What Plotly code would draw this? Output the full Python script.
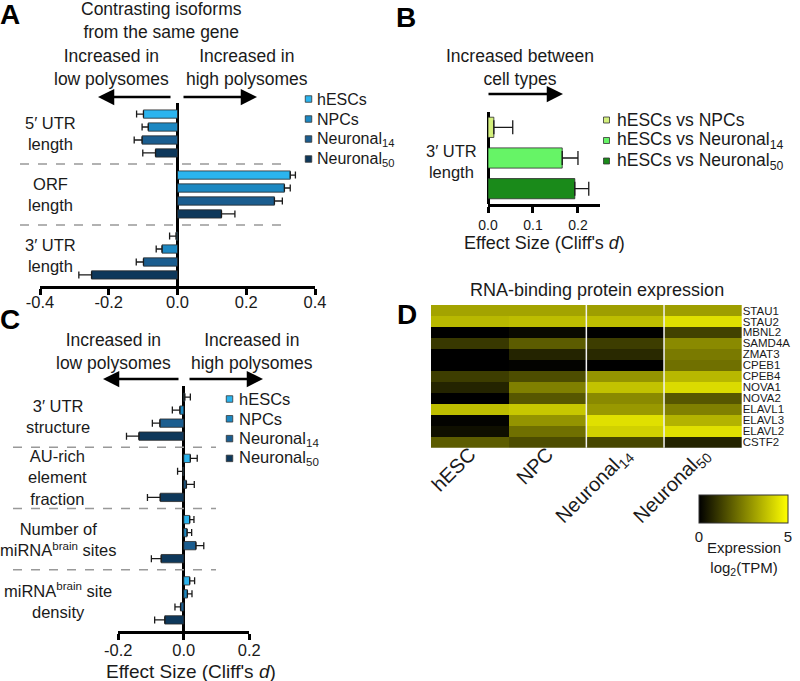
import plotly.graph_objects as go

W, H = 800, 681
def px(x): return x / W
def py(y): return 1 - y / H

FONT = "Liberation Sans, Arial, Helvetica, sans-serif"
TXT = "#1a1a1a"

# ---------------- data ----------------
series_names = ["hESCs", "NPCs", "Neuronal<sub>14</sub>", "Neuronal<sub>50</sub>"]
series_colors = ["#2BB4EE", "#1C88C2", "#1B5D8F", "#0E385B"]

# Panel A: contrasting isoforms from the same gene
a_groups = ["5′ UTR<br>length", "ORF<br>length", "3′ UTR<br>length"]
a_hesc = [-0.099, 0.328, -0.004]
a_npc = [-0.085, 0.311, -0.045]
a_n14 = [-0.103, 0.282, -0.099]
a_n50 = [-0.064, 0.128, -0.250]
a_hesc_err = [0.020, 0.015, 0.019]
a_npc_err = [0.018, 0.017, 0.017]
a_n14_err = [0.023, 0.023, 0.021]
a_n50_err = [0.037, 0.039, 0.037]
a_ticks = [-0.4, -0.2, 0.0, 0.2, 0.4]
a_ticktext = ["-0.4", "-0.2", "0.0", "0.2", "0.4"]

# Panel B: increased between cell types
b_names = ["hESCs vs NPCs", "hESCs vs Neuronal<sub>14</sub>", "hESCs vs Neuronal<sub>50</sub>"]
b_values = [0.013, 0.165, 0.193]
b_err = [0.042, 0.035, 0.031]
b_colors = ["#D4F07C", "#66F466", "#1A8A1A"]
b_ticks = [0.0, 0.1, 0.2]
b_ticktext = ["0.0", "0.1", "0.2"]

# Panel C
c_groups = ["3′ UTR<br>structure", "AU-rich<br>element<br>fraction",
            "Number of<br>miRNA<sup>brain</sup> sites", "miRNA<sup>brain</sup> site<br>density"]
c_hesc = [0.003, 0.020, 0.018, 0.018]
c_npc = [-0.012, -0.003, 0.010, 0.011]
c_n14 = [-0.073, 0.008, 0.037, -0.010]
c_n50 = [-0.137, -0.072, -0.069, -0.058]
c_hesc_err = [0.017, 0.021, 0.013, 0.015]
c_npc_err = [0.023, 0.016, 0.014, 0.014]
c_n14_err = [0.023, 0.024, 0.024, 0.017]
c_n50_err = [0.038, 0.039, 0.030, 0.031]
c_ticks = [-0.2, 0.0, 0.2]
c_ticktext = ["-0.2", "0.0", "0.2"]

# Panel D: RNA-binding protein expression, log2(TPM)
d_cols = ["hESC", "NPC", "Neuronal<sub>14</sub>", "Neuronal<sub>50</sub>"]
d_rows = ["STAU1", "STAU2", "MBNL2", "SAMD4A", "ZMAT3", "CPEB1", "CPEB4",
          "NOVA1", "NOVA2", "ELAVL1", "ELAVL3", "ELAVL2", "CSTF2"]
d_values = [
    [3.2, 3.2, 3.1, 3.1],
    [3.6, 3.7, 3.7, 4.4],
    [0.0, 0.2, 0.0, 1.3],
    [1.1, 1.8, 1.2, 2.7],
    [0.0, 0.7, 0.8, 2.4],
    [0.0, 0.05, 0.0, 2.2],
    [1.2, 1.5, 2.9, 3.6],
    [0.7, 2.5, 3.8, 4.3],
    [0.0, 1.7, 2.7, 1.7],
    [3.7, 3.9, 3.0, 2.5],
    [0.05, 2.9, 4.4, 3.5],
    [0.3, 2.2, 4.1, 4.4],
    [1.8, 1.5, 1.4, 0.7],
]

fig = go.Figure()

def err_arrays(vals, errs):
    plus = [e if v >= 0 else 0 for v, e in zip(vals, errs)]
    minus = [e if v < 0 else 0 for v, e in zip(vals, errs)]
    return plus, minus

def add_group_bars(groups, series, errs, xa, ya):
    for name, color, vals, er in zip(series_names, series_colors, series, errs):
        plus, minus = err_arrays(vals, er)
        fig.add_trace(go.Bar(
            y=groups, x=vals, orientation="h", name=name, showlegend=False,
            marker=dict(color=color, line=dict(color="#2a2a2a", width=0.8)),
            error_x=dict(type="data", symmetric=False, array=plus, arrayminus=minus,
                         color="#1a1a1a", thickness=1.3, width=3.5),
            xaxis=xa, yaxis=ya))

add_group_bars(a_groups, [a_hesc, a_npc, a_n14, a_n50],
               [a_hesc_err, a_npc_err, a_n14_err, a_n50_err], "x", "y")

for name, color, v, e in zip(b_names, b_colors, b_values, b_err):
    fig.add_trace(go.Bar(
        y=[name], x=[v], orientation="h", name=name, width=0.66, offset=-0.33,
        showlegend=False,
        marker=dict(color=color, line=dict(color="#2a2a2a", width=0.8)),
        error_x=dict(type="data", symmetric=False, array=[e], arrayminus=[0],
                     color="#1a1a1a", thickness=1.3, width=7),
        xaxis="x2", yaxis="y2"))

add_group_bars(c_groups, [c_hesc, c_npc, c_n14, c_n50],
               [c_hesc_err, c_npc_err, c_n14_err, c_n50_err], "x3", "y3")

fig.add_trace(go.Heatmap(
    z=d_values, x=d_cols, y=d_rows, zmin=0, zmax=5,
    colorscale=[[0, "#000000"], [1, "#FFFF00"]],
    xaxis="x4", yaxis="y4",
    colorbar=dict(orientation="h", x=px(743.5), xanchor="center", y=py(495), yanchor="top",
                  len=89, lenmode="pixels", thickness=28, thicknessmode="pixels",
                  xpad=0, ypad=0, tickvals=[0, 5], ticktext=["0", "5"], ticks="",
                  outlinewidth=1, outlinecolor="#333",
                  tickfont=dict(size=15, color=TXT, family=FONT))))

axis_line = dict(showline=True, linewidth=2.5, linecolor="black", ticks="outside",
                 ticklen=6, tickwidth=2.5, tickcolor="black", showgrid=False,
                 zeroline=True, zerolinewidth=2.5, zerolinecolor="black")
hidden_y = dict(showticklabels=False, showgrid=False, zeroline=False, showline=False,
                ticks="", autorange="reversed")

fig.update_layout(
    width=W, height=H, autosize=False,
    margin=dict(l=0, r=0, t=0, b=0, autoexpand=False),
    paper_bgcolor="white", plot_bgcolor="rgba(0,0,0,0)",
    font=dict(family=FONT, color=TXT, size=15),
    showlegend=False,
    barmode="group", bargap=0.15, bargroupgap=0.36,
    xaxis=dict(domain=[px(40), px(315)], range=[-0.4, 0.4], tickvals=a_ticks,
               ticktext=a_ticktext, tickfont=dict(size=16.5), ticklabelstandoff=-7,
               anchor="y", **axis_line),
    yaxis=dict(domain=[py(286), py(103)], anchor="x", **hidden_y),
    xaxis2=dict(domain=[px(488), px(600)], range=[0, 0.249], tickvals=b_ticks,
                ticktext=b_ticktext, tickfont=dict(size=14), ticklabelstandoff=0,
                anchor="y2", **axis_line),
    yaxis2=dict(domain=[py(204), py(112)], anchor="x2", categoryorder="array",
                categoryarray=b_names, **hidden_y),
    xaxis3=dict(domain=[px(118.3), px(249.3)], range=[-0.2, 0.2], tickvals=c_ticks,
                ticktext=c_ticktext, tickfont=dict(size=16.5), ticklabelstandoff=-4,
                anchor="y3", **axis_line),
    yaxis3=dict(domain=[py(631), py(386)], anchor="x3", **hidden_y),
    xaxis4=dict(domain=[px(431), px(741.7)], anchor="y4", tickangle=-45, ticks="",
                showgrid=False, zeroline=False, showline=False, ticklabelstandoff=-10,
                tickfont=dict(size=20, color=TXT)),
    yaxis4=dict(domain=[py(447.7), py(305)], anchor="x4", side="right", ticks="",
                showgrid=False, zeroline=False, showline=False, autorange="reversed",
                tickmode="array", tickvals=d_rows, ticktext=d_rows,
                tickfont=dict(size=11.5, family="Liberation Sans Narrow, Arial Narrow, " + FONT)),
)

ann = []
shapes = []
def text(x, y, s, size, xanchor="center", yanchor="middle", bold=False, yref="paper", **kw):
    if bold:
        s = "<b>" + s + "</b>"
    ann.append(dict(x=px(x), y=(py(y) if yref == "paper" else y), xref="paper", yref=yref,
                    text=s, showarrow=False, xanchor=xanchor, yanchor=yanchor,
                    font=dict(size=size, color=TXT if not bold else "black"), align="center", **kw))

def arrow(x_tip, x_tail, y):
    ann.append(dict(x=px(x_tip), y=py(y), xref="paper", yref="paper", text="",
                    showarrow=True, ax=x_tail - x_tip, ay=0, axref="pixel", ayref="pixel",
                    arrowhead=2, arrowsize=1.3, arrowwidth=2.5, arrowcolor="black",
                    standoff=0, startstandoff=0))

def legend(names, colors, x_sq, y_first, dy, x_text, size, sq=6.5):
    for i, (n, c) in enumerate(zip(names, colors)):
        yc = y_first + i * dy
        shapes.append(dict(type="rect", xref="paper", yref="paper",
                           x0=px(x_sq - sq / 2), x1=px(x_sq + sq / 2),
                           y0=py(yc + sq / 2), y1=py(yc - sq / 2),
                           fillcolor=c, line=dict(color="#333333", width=0.8)))
        ann.append(dict(x=px(x_text), y=py(yc), xref="paper", yref="paper", text=n,
                        showarrow=False, xanchor="left", yanchor="middle",
                        font=dict(size=size, color=TXT)))

# panel letters
text(-2, -3, "A", 28, xanchor="left", yanchor="top", bold=True)
text(394, -0.5, "B", 28, xanchor="left", yanchor="top", bold=True)
text(-2, 301.5, "C", 28, xanchor="left", yanchor="top", bold=True)
text(395, 297.5, "D", 28, xanchor="left", yanchor="top", bold=True)

# panel A headings
text(161, 20, "Contrasting isoforms<br>from the same gene", 17.5)
text(111, 67.5, "Increased in<br>low polysomes", 17.5)
text(247, 67.5, "Increased in<br>high polysomes", 17.5)
arrow(98, 172, 97)
arrow(257, 182, 97)
for i, g in enumerate(a_groups):
    text(50, i, g, 16.5, yref="y")
legend(series_names, series_colors, 308.5, 99, 20, 315, 16)

# panel B headings
text(520, 67.5, "Increased between<br>cell types", 17.5)
arrow(563, 487, 94)
text(452, 161, "3′ UTR<br>length", 16.5)
text(544, 243, "Effect Size (Cliff's <i>d</i>)", 18)
legend(b_names, b_colors, 606.5, 120, 20.5, 615, 17.5, sq=6)

# panel C headings
text(114, 351, "Increased in<br>low polysomes", 17.5)
text(252, 351, "Increased in<br>high polysomes", 17.5)
arrow(103, 180, 379)
arrow(263, 188, 379)
for i, g in enumerate(c_groups):
    text(58, i, g, 16.5, yref="y3")
text(191, 671.5, "Effect Size (Cliff's <i>d</i>)", 19)
legend(series_names, series_colors, 229.5, 399, 19.8, 237, 16.5)

# panel D headings
text(597, 290, "RNA-binding protein expression", 18)
text(744, 558, "Expression<br>log<sub>2</sub>(TPM)", 15)

fig.update_layout(annotations=ann)

for yv in [0.5, 1.5]:
    shapes.append(dict(type="line", xref="paper", yref="y", x0=px(20), x1=px(290), y0=yv, y1=yv,
                       line=dict(color="#999999", width=1.6, dash="dash")))
for yv in [0.5, 1.5, 2.5]:
    shapes.append(dict(type="line", xref="paper", yref="y3", x0=px(13), x1=px(216), y0=yv, y1=yv,
                       line=dict(color="#999999", width=1.6, dash="dash")))
for xv in [1.5, 2.5]:
    shapes.append(dict(type="line", xref="x4", yref="y4 domain", x0=xv, x1=xv, y0=0, y1=1,
                       line=dict(color="#F2F2F2", width=1.5)))
fig.update_layout(shapes=shapes)

fig.write_html("out.html", config={"displayModeBar": False},
               post_script="document.body.style.margin='0';document.body.style.padding='0';")
